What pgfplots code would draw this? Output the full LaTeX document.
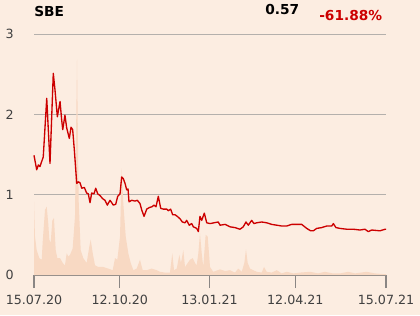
\documentclass[border=0pt]{standalone}
\usepackage{pgfplots}
\pgfplotsset{compat=1.18}
\usepackage{fontspec}
\setmainfont{DejaVu Sans}
\definecolor{bg}{HTML}{FCEDE1}
\definecolor{vol}{HTML}{F8D9C3}
\definecolor{pr}{HTML}{CC0000}
\definecolor{gridc}{HTML}{B4B0AC}
\definecolor{axc}{HTML}{8A8684}
\definecolor{lbl}{HTML}{404040}
\begin{document}
\begin{tikzpicture}[x=1pt,y=1pt]
\fill[bg] (-25.5,-30) rectangle (289.5,206.25);
\begin{axis}[
  at={(0,0)}, anchor=south west,
  scale only axis, width=264pt, height=180.75pt,
  xmin=0, xmax=365, ymin=0, ymax=3,
  axis x line=bottom, axis y line=left,
  x axis line style={-, draw=axc, line width=0.8pt},
  y axis line style={draw=none},
  xtick={0,89,182,271,365},
  xticklabels={15.07.20,12.10.20,13.01.21,12.04.21,15.07.21},
  ytick={0,1,2,3},
  ymajorgrids, grid style={gridc, line width=0.7pt},
  tick align=outside,
  major tick length=9.75pt,
  xtick style={axc, line width=0.8pt},
  ytick style={draw=none},
  tick label style={font=\fontsize{9.5}{11}\selectfont, text=lbl},
  /pgf/number format/assume math mode=true,
  xticklabel style={yshift=-2pt},
  yticklabel style={xshift=-2pt},
  clip=false,
]
\addplot[fill=vol, draw=none] coordinates {
(0,0.91)(1,0.48)(2.8,0.31)(5.5,0.21)(8,0.19)(9,0.41)(11.4,0.81)(13.2,0.85)(14.8,0.64)(15.9,0.44)(17.3,0.40)(19,0.68)(20.7,0.71)(22.5,0.31)(24.2,0.21)(27,0.21)(29.8,0.15)(32.1,0.12)(33.9,0.27)(35.6,0.23)(37.3,0.25)(40.1,0.33)(42.5,0.73)(44.6,2.68)(46.3,0.93)(48.4,0.31)(51.1,0.21)(54.6,0.15)(57.3,0.35)(58.8,0.44)(60.9,0.27)(63.3,0.12)(66.7,0.10)(71.9,0.10)(77,0.08)(81.6,0.06)(84,0.21)(86.4,0.19)(89.2,0.48)(90.9,1.33)(92.6,0.89)(95.1,0.48)(97.8,0.27)(100.3,0.15)(103,0.06)(106.5,0.08)(109.9,0.19)(112.7,0.06)(116.9,0.06)(122,0.08)(127.2,0.06)(130.7,0.04)(135.8,0.03)(141,0.03)(143.4,0.27)(145.2,0.06)(148,0.08)(150.7,0.25)(152.4,0.15)(154.8,0.31)(156.6,0.10)(159.4,0.15)(161.8,0.19)(164.6,0.21)(166.9,0.15)(168.7,0.12)(170.4,0.27)(172.1,0.52)(173.9,0.27)(175.5,0.10)(178,0.50)(180.1,0.48)(182.5,0.10)(185.9,0.04)(192.9,0.07)(198.1,0.05)(203.2,0.06)(208.4,0.03)(211.8,0.08)(215.4,0.04)(218.1,0.15)(219.8,0.32)(221.6,0.15)(224,0.08)(227.4,0.06)(230.9,0.04)(236.1,0.03)(238.5,0.10)(241.3,0.04)(246.5,0.03)(251.7,0.06)(256.8,0.02)(262,0.04)(268.9,0.02)(275.8,0.03)(286.2,0.04)(294.5,0.02)(301.7,0.04)(310,0.02)(317.3,0.02)(325.9,0.04)(332.9,0.02)(344.9,0.04)(353.6,0.02)(364,0.01)(365,0.01)
} \closedcycle;
\addplot[pr, line width=1pt, line join=round] coordinates {
(0,1.49)(2.8,1.31)(4.5,1.37)(6.2,1.35)(9.6,1.47)(13.2,2.20)(16.6,1.39)(20,2.51)(21.8,2.30)(24.2,1.97)(27,2.16)(28.7,1.93)(29.8,1.81)(32.1,1.99)(33.9,1.83)(36.6,1.70)(38.4,1.84)(40.1,1.81)(41.8,1.56)(44.3,1.14)(45.9,1.16)(47.7,1.15)(49.5,1.08)(52.2,1.09)(54.6,1.02)(56.3,1.01)(58.1,0.90)(59.8,1.02)(62.2,1.01)(64,1.08)(66.1,1.01)(68.4,0.99)(71.2,0.95)(73.6,0.93)(76,0.87)(78.8,0.93)(80.6,0.90)(82.2,0.87)(84.7,0.88)(86.8,0.98)(89.2,1.01)(90.9,1.22)(92.6,1.20)(94.4,1.14)(96.1,1.06)(97.5,1.07)(98.5,0.91)(101.3,0.93)(104.7,0.92)(107.1,0.93)(109.9,0.89)(111.7,0.81)(114.1,0.73)(116.9,0.82)(119.6,0.84)(122.4,0.85)(124.4,0.87)(126.5,0.85)(128.9,0.98)(131.4,0.83)(134.1,0.82)(137.6,0.82)(139.3,0.80)(141.7,0.82)(143.8,0.75)(146.2,0.75)(148.6,0.73)(151.4,0.70)(153.8,0.66)(156.6,0.65)(158.3,0.68)(161,0.62)(163.5,0.64)(165.2,0.60)(168.7,0.58)(170.4,0.54)(172.1,0.73)(173.9,0.68)(176.6,0.77)(179.1,0.65)(182.5,0.64)(186.6,0.65)(191.1,0.66)(192.9,0.62)(198.1,0.63)(203.2,0.60)(208.4,0.59)(213.6,0.57)(217,0.60)(219.8,0.66)(222.2,0.62)(225.7,0.68)(228.1,0.64)(230.9,0.65)(236.1,0.66)(241.3,0.65)(246.5,0.63)(251.7,0.62)(256.8,0.61)(262,0.61)(267.2,0.63)(272.4,0.63)(277.6,0.63)(282.8,0.58)(286.9,0.55)(289.6,0.55)(293.1,0.58)(298.3,0.59)(303.5,0.61)(308.7,0.61)(310.4,0.64)(313.1,0.59)(317.3,0.58)(324.2,0.57)(331.1,0.57)(338,0.56)(343.2,0.57)(346.6,0.54)(350.2,0.56)(358.8,0.55)(364,0.57)(365,0.57)
};
\end{axis}
\node[anchor=base west, inner sep=0pt, font=\fontsize{10.3}{12}\selectfont\bfseries] at (0,194) {SBE};
\node[anchor=base west, inner sep=0pt, font=\fontsize{10.3}{12}\selectfont\bfseries] at (173.25,195.2) {0.57};
\node[anchor=base west, inner sep=0pt, font=\fontsize{10.3}{12}\selectfont\bfseries, text=pr] at (213.75,191.2) {-61.88\%};
\pgfresetboundingbox
\path (-25.5,-30) rectangle (289.5,206.25);
\end{tikzpicture}
\end{document}
